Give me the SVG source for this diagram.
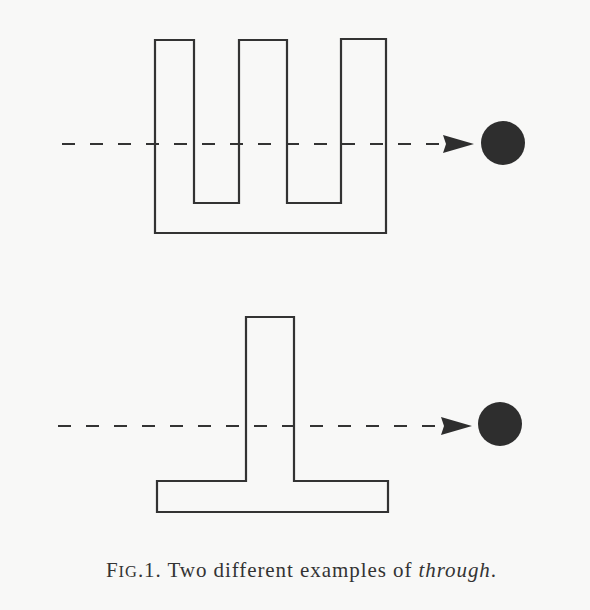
<svg xmlns="http://www.w3.org/2000/svg" width="590" height="610" viewBox="0 0 590 610">
<style>
.shape{fill:none;stroke:#333;stroke-width:2.2;stroke-linejoin:miter}
.dash{fill:none;stroke:#333;stroke-width:2.2;stroke-dasharray:13 15}
.dot{fill:#2e2e2e}
.cap{font-family:"Liberation Serif",serif;font-size:21px;fill:#333}
</style>
<defs>
<marker id="arr" markerWidth="32" markerHeight="18" refX="31" refY="9" orient="auto" markerUnits="userSpaceOnUse">
<path d="M0,0 L31,9 L0,18 L3,9 Z" fill="#2e2e2e"/>
</marker>
</defs>
<rect width="590" height="610" fill="#f8f8f7"/>
<g id="comb">
<path class="shape" d="M155,40 H194 V203 H239 V40 H287 V203 H341 V39 H386 V233 H155 Z"/>
</g>
<g id="tee">
<path class="shape" d="M246,317 H294 V481 H388 V512 H157 V481 H246 Z"/>
</g>
<g id="dot1"><circle class="dot" cx="503" cy="143" r="22"/></g>
<g id="dot2"><circle class="dot" cx="500" cy="424" r="22"/></g>
<g id="connectors">
<path class="dash" d="M62,144 H440"/>
<path d="M442,144 H474" stroke="none" marker-end="url(#arr)"/>
<path class="dash" d="M58,426 H440"/>
<path d="M440,426 H472" stroke="none" marker-end="url(#arr)"/>
</g>
<text class="cap" x="106" y="577" textLength="390" lengthAdjust="spacing">F<tspan font-size="16.5">IG</tspan>.1. Two different examples of <tspan font-style="italic">through</tspan>.</text>
</svg>
